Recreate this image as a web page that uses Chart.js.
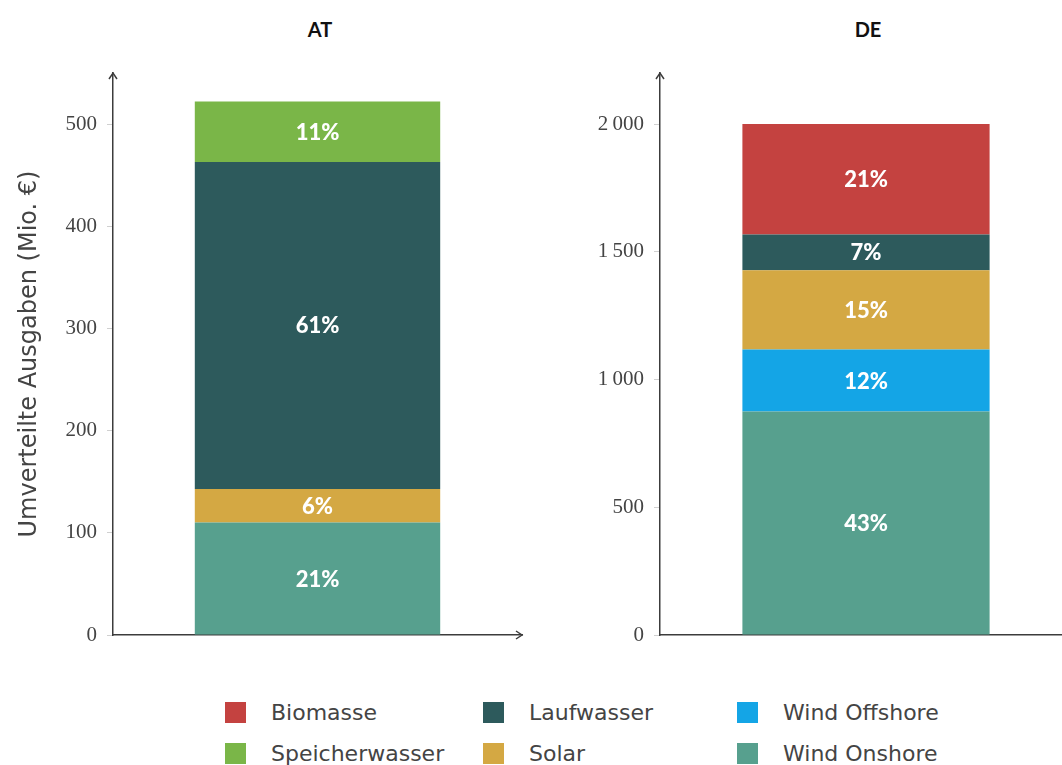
<!DOCTYPE html>
<html>
<head>
<meta charset="utf-8">
<script src="https://cdn.jsdelivr.net/npm/chart.js@4.4.0/dist/chart.umd.min.js"></script>
<style>
  html, body { margin: 0; padding: 0; background: #fff; overflow: hidden; width: 1062px; height: 765px; }
  canvas { position: absolute; top: 0; }
  .title { position: absolute; top: 17px; font: bold 20px 'Lato', sans-serif; color: #111; transform: translateX(-50%); }
  .item { position: absolute; font: 22px 'DejaVu Sans', sans-serif; color: #444; display: flex; align-items: center; height: 24px; }
  .swatch { width: 21px; height: 21px; margin-right: 25px; }
</style>
</head>
<body>
<div class="title" style="left:320px">AT</div>
<div class="title" style="left:868px">DE</div>
<canvas id="at" width="545" height="645" style="left:0"></canvas>
<canvas id="de" width="540" height="645" style="left:560px"></canvas>
<div id="legend"></div>
<script>
// stacking order, bottom to top
const series = ['Wind Onshore', 'Wind Offshore', 'Solar', 'Laufwasser', 'Speicherwasser', 'Biomasse'];
const colors = ['#57a08e', '#14a5e6', '#d4a843', '#2d5a5c', '#7ab648', '#c44240'];
const atValues = [110, null, 33, 320, 59, null];
const deValues = [875, 243, 310, 140, null, 432];
const atShares = ['21%', '', '6%', '61%', '11%', ''];
const deShares = ['43%', '12%', '15%', '7%', '', '21%'];
const atTicks = [0, 100, 200, 300, 400, 500];
const deTicks = [0, 500, 1000, 1500, 2000];

// legend layout: column-major
const legendOrder = ['Biomasse', 'Speicherwasser', 'Laufwasser', 'Solar', 'Wind Offshore', 'Wind Onshore'];

const axisColor = '#3c3c3c';

const shareLabels = {
    id: 'shareLabels',
    afterDatasetsDraw(chart, args, opts) {
        const ctx = chart.ctx;
        ctx.save();
        ctx.font = '900 22px Lato';
        ctx.fillStyle = '#fff';
        ctx.textAlign = 'center';
        ctx.textBaseline = 'middle';
        chart.data.datasets.forEach((ds, i) => {
            const text = opts.labels[i];
            if (!text) return;
            const bar = chart.getDatasetMeta(i).data[0];
            ctx.fillText(text, bar.x, (bar.y + bar.base) / 2 + 1);
        });
        ctx.restore();
    }
};

const axisArrows = {
    id: 'axisArrows',
    afterDraw(chart) {
        const ctx = chart.ctx;
        const a = chart.chartArea;
        ctx.save();
        ctx.strokeStyle = axisColor;
        ctx.lineWidth = 1.5;
        ctx.beginPath();
        ctx.moveTo(a.left - 4, a.top + 6);
        ctx.lineTo(a.left, a.top);
        ctx.lineTo(a.left + 4, a.top + 6);
        ctx.moveTo(a.right - 6, a.bottom - 4);
        ctx.lineTo(a.right, a.bottom);
        ctx.lineTo(a.right - 6, a.bottom + 4);
        ctx.stroke();
        ctx.restore();
    }
};

function makeChart(id, values, shares, ticks, max, axisWidth, padRight, title) {
    const step = ticks[1] - ticks[0];
    return new Chart(document.getElementById(id), {
        type: 'bar',
        data: {
            labels: [''],
            datasets: series.map((name, i) => ({
                label: name,
                data: [values[i]],
                backgroundColor: colors[i],
                borderWidth: 0,
                barPercentage: 0.6,
                categoryPercentage: 1
            }))
        },
        options: {
            responsive: false,
            animation: false,
            layout: { padding: { top: 73, right: padRight, bottom: 10, left: 0 } },
            scales: {
                x: {
                    stacked: true,
                    ticks: { display: false },
                    grid: { display: false },
                    border: { display: true, color: axisColor, width: 1.5 },
                    afterFit: s => { s.height = 0; }
                },
                y: {
                    stacked: true,
                    min: 0,
                    max: max,
                    grid: { display: true, drawOnChartArea: false, drawTicks: true, tickLength: 6, color: '#d0d0d0' },
                    border: { display: true, color: axisColor, width: 1.5 },
                    ticks: {
                        stepSize: step,
                        padding: 10,
                        color: '#444',
                        font: { family: 'Liberation Serif', size: 21 },
                        callback: v => v >= 1000 ? String(v).replace(/(\d)(\d{3})$/, '$1\u2009$2') : String(v)
                    },
                    afterBuildTicks: s => { s.ticks = ticks.map(v => ({ value: v })); },
                    afterFit: s => { s.width = axisWidth; s.paddingTop = 0; s.paddingBottom = 0; },
                    title: {
                        display: !!title,
                        text: title,
                        color: '#444',
                        font: { family: 'DejaVu Sans', size: 24 },
                        padding: { top: 15, bottom: 0 }
                    }
                }
            },
            plugins: {
                legend: { display: false },
                tooltip: { enabled: false },
                shareLabels: { labels: shares }
            }
        },
        plugins: [shareLabels, axisArrows]
    });
}

makeChart('at', atValues, atShares, atTicks, 550, 113, 23, 'Umverteilte Ausgaben (Mio. €)');
makeChart('de', deValues, deShares, deTicks, 2200, 100, 28, '');

// legend
const legendX = [225, 483, 737];
const legendY = [700, 741];
const legend = document.getElementById('legend');
legendOrder.forEach((name, k) => {
    const item = document.createElement('div');
    item.className = 'item';
    item.style.left = legendX[Math.floor(k / 2)] + 'px';
    item.style.top = legendY[k % 2] + 'px';
    const sw = document.createElement('span');
    sw.className = 'swatch';
    sw.style.background = colors[series.indexOf(name)];
    item.appendChild(sw);
    item.appendChild(document.createTextNode(name));
    legend.appendChild(item);
});
</script>
</body>
</html>
